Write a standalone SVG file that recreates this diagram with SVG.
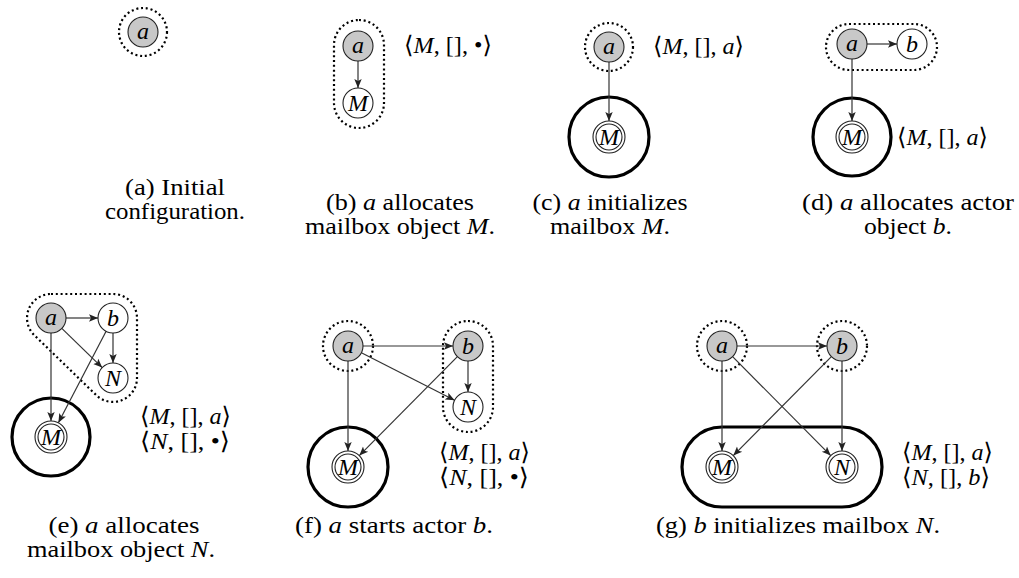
<svg xmlns="http://www.w3.org/2000/svg" width="1019" height="578" viewBox="0 0 1019 578">
<style>
text{font-family:"Liberation Serif","DejaVu Serif",serif;fill:#000}
.cap{font-size:24px;text-anchor:middle}
.lbl{font-size:24px}
.nl{font-size:24px;font-style:italic;text-anchor:middle}
.i{font-style:italic}
.actor{fill:#c8c8c8;stroke:#222;stroke-width:1.1}
.mb{fill:#fff;stroke:#222;stroke-width:1.1}
.dot{fill:none;stroke:#000;stroke-width:2.2;stroke-dasharray:2 2.8}
.thick{fill:none;stroke:#000;stroke-width:3.2}
.edge{stroke:#333;stroke-width:1.2;fill:none;marker-end:url(#ah)}
</style>
<defs>
<marker id="ah" markerUnits="userSpaceOnUse" markerWidth="11" markerHeight="9" refX="9" refY="4.5" orient="auto">
<path d="M0,0.8 L9,4.5 L0,8.2 L2,4.5 Z" fill="#222"/>
</marker>
</defs>

<!-- (a) -->
<g id="a-groups"><circle class="dot" cx="143" cy="32" r="24"/></g>
<g id="a-node-a"><circle class="actor" cx="143" cy="32" r="15"/><text class="nl" x="143" y="39">a</text></g>
<g id="a-caption">
<text class="cap" x="175" y="195" textLength="100" lengthAdjust="spacingAndGlyphs">(a) Initial</text>
<text class="cap" x="175" y="219" textLength="140" lengthAdjust="spacingAndGlyphs">configuration.</text>
</g>

<!-- (b) -->
<g id="b-groups"><rect class="dot" x="334" y="20" width="50" height="108" rx="25"/></g>
<g id="b-connectors"><line class="edge" x1="358" y1="61" x2="358" y2="88"/></g>
<g id="b-node-a"><circle class="actor" cx="358" cy="46" r="15"/><text class="nl" x="358" y="53">a</text></g>
<g id="b-node-M"><circle class="mb" cx="358" cy="103" r="15"/><text class="nl" x="358" y="111">M</text></g>
<g id="b-label"><text class="lbl" x="404" y="53" textLength="88" lengthAdjust="spacingAndGlyphs">⟨<tspan class="i">M</tspan>, [], •⟩</text></g>
<g id="b-caption">
<text class="cap" x="400" y="210" textLength="148" lengthAdjust="spacingAndGlyphs">(b) <tspan class="i">a</tspan> allocates</text>
<text class="cap" x="400" y="234" textLength="190" lengthAdjust="spacingAndGlyphs">mailbox object <tspan class="i">M</tspan>.</text>
</g>

<!-- (c) -->
<g id="c-groups"><circle class="dot" cx="609" cy="47" r="24"/><circle class="thick" cx="609" cy="137" r="40"/></g>
<g id="c-connectors"><line class="edge" x1="609" y1="62" x2="609" y2="121"/></g>
<g id="c-node-a"><circle class="actor" cx="609" cy="47" r="15"/><text class="nl" x="609" y="54">a</text></g>
<g id="c-node-M"><circle class="mb" cx="609" cy="137" r="16"/><circle class="mb" cx="609" cy="137" r="13"/><text class="nl" x="609" y="145">M</text></g>
<g id="c-label"><text class="lbl" x="653" y="54" textLength="91" lengthAdjust="spacingAndGlyphs">⟨<tspan class="i">M</tspan>, [], <tspan class="i">a</tspan>⟩</text></g>
<g id="c-caption">
<text class="cap" x="610" y="210" textLength="155" lengthAdjust="spacingAndGlyphs">(c) <tspan class="i">a</tspan> initializes</text>
<text class="cap" x="610" y="234" textLength="120" lengthAdjust="spacingAndGlyphs">mailbox <tspan class="i">M</tspan>.</text>
</g>

<!-- (d) -->
<g id="d-groups"><rect class="dot" x="826" y="24" width="111" height="46" rx="23"/><circle class="thick" cx="852" cy="137" r="39"/></g>
<g id="d-connectors">
<line class="edge" x1="867" y1="44" x2="897" y2="44"/>
<line class="edge" x1="852" y1="59" x2="852" y2="121"/>
</g>
<g id="d-node-a"><circle class="actor" cx="852" cy="44" r="15"/><text class="nl" x="852" y="51">a</text></g>
<g id="d-node-b"><circle class="mb" cx="912" cy="44" r="15"/><text class="nl" x="912" y="52">b</text></g>
<g id="d-node-M"><circle class="mb" cx="852" cy="137" r="16"/><circle class="mb" cx="852" cy="137" r="13"/><text class="nl" x="852" y="145">M</text></g>
<g id="d-label"><text class="lbl" x="897" y="145" textLength="91" lengthAdjust="spacingAndGlyphs">⟨<tspan class="i">M</tspan>, [], <tspan class="i">a</tspan>⟩</text></g>
<g id="d-caption">
<text class="cap" x="908" y="210" textLength="212" lengthAdjust="spacingAndGlyphs">(d) <tspan class="i">a</tspan> allocates actor</text>
<text class="cap" x="908" y="234" textLength="88" lengthAdjust="spacingAndGlyphs">object <tspan class="i">b</tspan>.</text>
</g>

<!-- (e) -->
<g id="e-groups">
<path class="dot" d="M51 294 L113 294 A24 24 0 0 1 137 318 L137 378 A24 24 0 0 1 96.3 395.2 L34.3 335.2 A24 24 0 0 1 51 294 Z"/>
<circle class="thick" cx="51" cy="437" r="39"/>
</g>
<g id="e-connectors">
<line class="edge" x1="66" y1="318" x2="98" y2="318"/>
<line class="edge" x1="51" y1="333" x2="51" y2="421"/>
<line class="edge" x1="61.8" y1="328.4" x2="102.2" y2="367.6"/>
<line class="edge" x1="113" y1="333" x2="113" y2="363"/>
<line class="edge" x1="106.1" y1="331.3" x2="58.4" y2="422.8"/>
</g>
<g id="e-node-a"><circle class="actor" cx="51" cy="318" r="15"/><text class="nl" x="51" y="325">a</text></g>
<g id="e-node-b"><circle class="mb" cx="113" cy="318" r="15"/><text class="nl" x="113" y="326">b</text></g>
<g id="e-node-N"><circle class="mb" cx="113" cy="378" r="15"/><text class="nl" x="113" y="386">N</text></g>
<g id="e-node-M"><circle class="mb" cx="51" cy="437" r="16"/><circle class="mb" cx="51" cy="437" r="13"/><text class="nl" x="51" y="445">M</text></g>
<g id="e-label">
<text class="lbl" x="140" y="424" textLength="91" lengthAdjust="spacingAndGlyphs">⟨<tspan class="i">M</tspan>, [], <tspan class="i">a</tspan>⟩</text>
<text class="lbl" x="140" y="449" textLength="90" lengthAdjust="spacingAndGlyphs">⟨<tspan class="i">N</tspan>, [], •⟩</text>
</g>
<g id="e-caption">
<text class="cap" x="124" y="533" textLength="151" lengthAdjust="spacingAndGlyphs">(e) <tspan class="i">a</tspan> allocates</text>
<text class="cap" x="121" y="557" textLength="188" lengthAdjust="spacingAndGlyphs">mailbox object <tspan class="i">N</tspan>.</text>
</g>

<!-- (f) -->
<g id="f-groups">
<circle class="dot" cx="348" cy="346" r="25"/>
<rect class="dot" x="443" y="321" width="50" height="111" rx="25"/>
<circle class="thick" cx="348" cy="467" r="40"/>
</g>
<g id="f-connectors">
<line class="edge" x1="363" y1="346" x2="453" y2="346"/>
<line class="edge" x1="348" y1="361" x2="348" y2="451"/>
<line class="edge" x1="361.4" y1="352.8" x2="454.6" y2="400.2"/>
<line class="edge" x1="468" y1="361" x2="468" y2="392"/>
<line class="edge" x1="457.4" y1="356.6" x2="359.3" y2="455.6"/>
</g>
<g id="f-node-a"><circle class="actor" cx="348" cy="346" r="15"/><text class="nl" x="348" y="353">a</text></g>
<g id="f-node-b"><circle class="actor" cx="468" cy="346" r="15"/><text class="nl" x="468" y="354">b</text></g>
<g id="f-node-N"><circle class="mb" cx="468" cy="407" r="15"/><text class="nl" x="468" y="415">N</text></g>
<g id="f-node-M"><circle class="mb" cx="348" cy="467" r="16"/><circle class="mb" cx="348" cy="467" r="13"/><text class="nl" x="348" y="475">M</text></g>
<g id="f-label">
<text class="lbl" x="439" y="460" textLength="91" lengthAdjust="spacingAndGlyphs">⟨<tspan class="i">M</tspan>, [], <tspan class="i">a</tspan>⟩</text>
<text class="lbl" x="439" y="485" textLength="90" lengthAdjust="spacingAndGlyphs">⟨<tspan class="i">N</tspan>, [], •⟩</text>
</g>
<g id="f-caption">
<text class="cap" x="394" y="533" textLength="198" lengthAdjust="spacingAndGlyphs">(f) <tspan class="i">a</tspan> starts actor <tspan class="i">b</tspan>.</text>
</g>

<!-- (g) -->
<g id="g-groups">
<circle class="dot" cx="722" cy="346" r="25"/>
<circle class="dot" cx="842" cy="346" r="25"/>
<rect class="thick" x="682" y="427" width="200" height="80" rx="40"/>
</g>
<g id="g-connectors">
<line class="edge" x1="737" y1="346" x2="827" y2="346"/>
<line class="edge" x1="722" y1="361" x2="722" y2="451"/>
<line class="edge" x1="842" y1="361" x2="842" y2="451"/>
<line class="edge" x1="732.6" y1="356.6" x2="830.7" y2="455.6"/>
<line class="edge" x1="831.4" y1="356.6" x2="733.3" y2="455.6"/>
</g>
<g id="g-node-a"><circle class="actor" cx="722" cy="346" r="15"/><text class="nl" x="722" y="353">a</text></g>
<g id="g-node-b"><circle class="actor" cx="842" cy="346" r="15"/><text class="nl" x="842" y="354">b</text></g>
<g id="g-node-M"><circle class="mb" cx="722" cy="467" r="16"/><circle class="mb" cx="722" cy="467" r="13"/><text class="nl" x="722" y="475">M</text></g>
<g id="g-node-N"><circle class="mb" cx="842" cy="467" r="16"/><circle class="mb" cx="842" cy="467" r="13"/><text class="nl" x="842" y="475">N</text></g>
<g id="g-label">
<text class="lbl" x="902" y="460" textLength="91" lengthAdjust="spacingAndGlyphs">⟨<tspan class="i">M</tspan>, [], <tspan class="i">a</tspan>⟩</text>
<text class="lbl" x="902" y="485" textLength="88" lengthAdjust="spacingAndGlyphs">⟨<tspan class="i">N</tspan>, [], <tspan class="i">b</tspan>⟩</text>
</g>
<g id="g-caption">
<text class="cap" x="798" y="533" textLength="284" lengthAdjust="spacingAndGlyphs">(g) <tspan class="i">b</tspan> initializes mailbox <tspan class="i">N</tspan>.</text>
</g>
</svg>
